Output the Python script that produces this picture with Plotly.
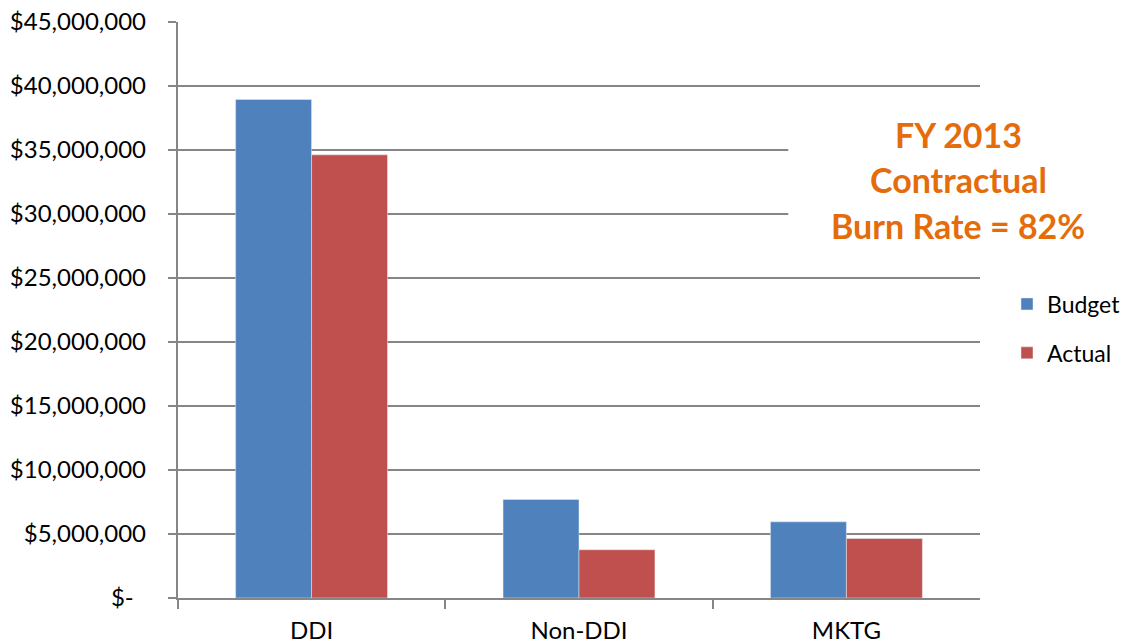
import plotly.graph_objects as go

# Contract spend by category, FY 2013
categories = ["DDI", "Non-DDI", "MKTG"]
budget = [38_950_000, 7_700_000, 5_950_000]
actual = [34_620_000, 3_770_000, 4_650_000]

y_tick_values = [0, 5e6, 10e6, 15e6, 20e6, 25e6, 30e6, 35e6, 40e6, 45e6]
y_tick_labels = ["$-\u00a0\u00a0", "$5,000,000", "$10,000,000", "$15,000,000",
                 "$20,000,000", "$25,000,000", "$30,000,000", "$35,000,000",
                 "$40,000,000", "$45,000,000"]

callout_lines = ["FY 2013", "Contractual", "Burn Rate = 82%"]

BLUE = "#4F81BD"
RED = "#C0504D"
ORANGE = "#E46C0A"
GRID = "#868686"
FONT = "Lato, 'Open Sans', sans-serif"

W, H = 1126, 644
# plot area in pixels
PX0, PX1, PY0, PY1 = 178, 981, 22, 598


def px(x):
    return x / W


def py(y):
    return 1 - y / H


fig = go.Figure()
fig.add_trace(go.Bar(name="Budget", x=categories, y=budget, marker_color=BLUE,
                     legendgroup="b"))
fig.add_trace(go.Bar(name="Actual", x=categories, y=actual, marker_color=RED,
                     legendgroup="a"))

# white panel behind the callout text
fig.add_shape(type="rect", xref="paper", yref="paper",
              x0=px(789), x1=px(PX1 + 1), y0=py(272), y1=py(96),
              fillcolor="white", line_width=0, layer="above")

line_y = [134, 180, 226]
for txt, yc in zip(callout_lines, line_y):
    fig.add_annotation(text=f"<b>{txt}</b>", xref="paper", yref="paper",
                       x=px(959), y=py(yc),
                       xanchor="center", yanchor="middle", showarrow=False,
                       font=dict(family=FONT, size=34, color=ORANGE))

fig.update_layout(
    width=W, height=H,
    margin=dict(l=0, r=0, t=0, b=0),
    paper_bgcolor="white", plot_bgcolor="white",
    barmode="group", bargap=0.432, bargroupgap=0,
    font=dict(family=FONT, size=23, color="black"),
    legend=dict(x=px(1008), y=py(328.5), xanchor="left", yanchor="middle",
                tracegroupgap=16, font=dict(size=23),
                bgcolor="rgba(0,0,0,0)"),
    xaxis=dict(domain=[px(PX0), px(PX1)], automargin=False,
               showline=True, linecolor=GRID, linewidth=2,
               ticks="outside", tickson="boundaries", ticklen=9,
               tickcolor=GRID, tickwidth=2, showgrid=False,
               ticklabelstandoff=10, tickfont=dict(size=24)),
    yaxis=dict(domain=[py(PY1), py(PY0)], automargin=False,
               range=[0, 45e6], tickvals=y_tick_values, ticktext=y_tick_labels,
               showline=True, linecolor=GRID, linewidth=2,
               ticks="outside", ticklen=8, tickcolor=GRID, tickwidth=1.5,
               showgrid=True, gridcolor=GRID, gridwidth=1.5,
               zeroline=False, ticklabelstandoff=17, tickfont=dict(size=24)),
)

fig.write_html("out.html")
